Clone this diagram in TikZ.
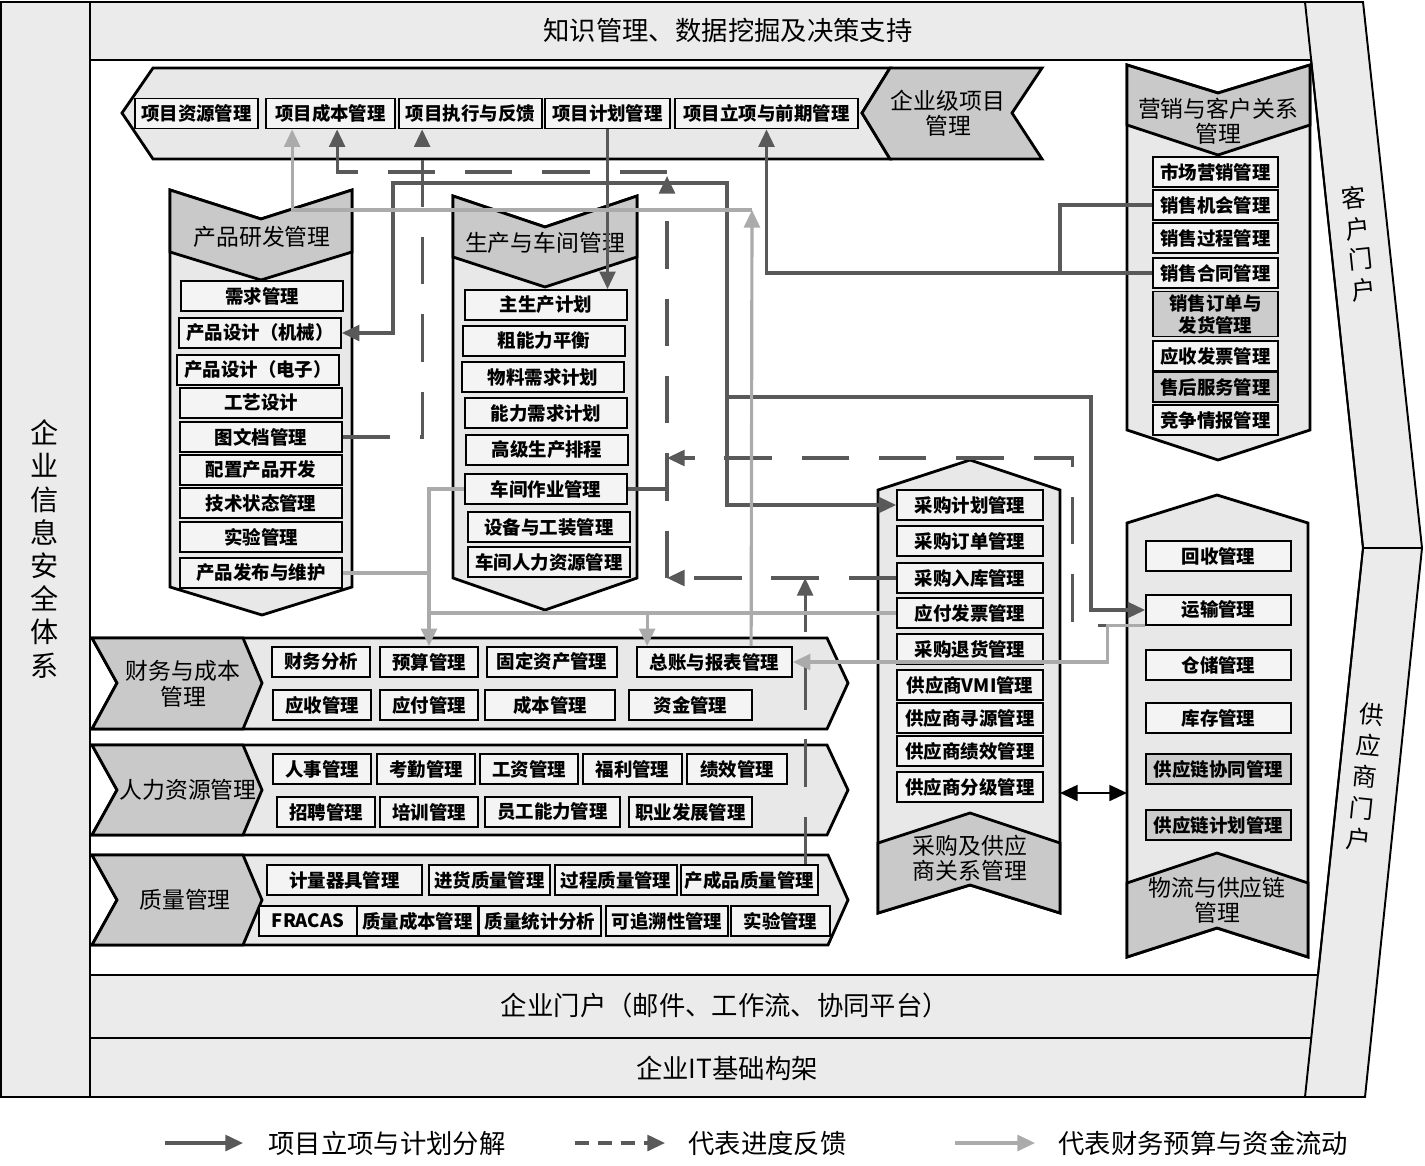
\documentclass[tikz,border=0pt]{standalone}
\usepackage{fontspec}
\setmainfont{Noto Sans CJK SC}
\usetikzlibrary{arrows.meta,positioning}
\tikzset{
  frame/.style={draw=black,line width=1.1pt,fill=gray!16},
  shell/.style={draw=black,line width=1.6pt,fill=gray!18},
  head/.style={draw=black,line width=1.6pt,fill=gray!42},
  item/.style={rectangle,draw=black,line width=1pt,fill=gray!9,minimum height=0.6cm,
    inner sep=1pt,font=\fontsize{10.5}{12.5}\selectfont\bfseries},
  dark/.style={fill=gray!40},
  rd/.style={item,minimum width=3.24cm},
  mk/.style={item,minimum width=2.5cm},
  cg/.style={item,minimum width=2.92cm},
  wlitem/.style={item,minimum width=2.9cm},
  ttl/.style={align=center,font=\fontsize{13}{14.5}\selectfont},
  band/.style={font=\fontsize{15}{17}\selectfont},
  legend/.style={font=\fontsize{15}{17}\selectfont,inner sep=0pt},
  % connectors: plan in dark grey, feedback dashed, funds in light grey
  plan/.style={draw=black!65,line width=1.8pt},
  feed/.style={plan,dash pattern=on 27pt off 17pt},
  fund/.style={draw=black!33,line width=1.8pt},
  arr/.style={-{Triangle[length=10pt,width=9pt]}}
}
\begin{document}
\begin{tikzpicture}[x=0.02cm,y=-0.02cm]
  \useasboundingbox (0,0) rectangle (1425,1165);
  % frame and bands
  \draw[frame] (1,2) -- (1363,2) -- (1422,548) -- (1365,1097) -- (1,1097) -- cycle;
  \draw[frame,fill=white] (90,60) -- (1311,60) -- (1363,548) -- (1318,975) -- (90,975) -- cycle;
  \draw[frame,fill=none] (90,2) -- (90,1097);
  \draw[frame,fill=none] (1305,2) -- (1363,548) -- (1305,1097);
  \draw[frame,fill=none] (1363,548) -- (1422,548);
  \draw[frame,fill=none] (90,1038) -- (1311,1038);
  \node[band] (zszc) at (728,30) {知识管理、数据挖掘及决策支持};
  \node[band] (qymh) at (725,1005) {企业门户（邮件、工作流、协同平台）};
  \node[band] (itjg) at (727,1068) {企业IT基础构架};
  \node[align=center,font=\fontsize{16}{18.9}\selectfont] (aqtx) at (45,549) {企\\业\\信\\息\\安\\全\\体\\系};
  \node[align=center,rotate=6,font=\fontsize{14}{17.6}\selectfont] (khmh) at (1359,244) {客\\户\\门\\户};
  \node[align=center,rotate=-6,font=\fontsize{14}{18}\selectfont] (gymh) at (1365,777) {供\\应\\商\\门\\户};

  % enterprise project management
  \draw[shell] (122,113) -- (153,68) -- (890,68) -- (862,113) -- (890,159) -- (153,159) -- cycle;
  \draw[head] (890,68) -- (1042,68) -- (1012,113) -- (1042,159) -- (890,159) -- (862,113) -- cycle;
  \node[ttl] (xmzt) at (948,113) {企业级项目\\管理};
  \node[item,minimum width=2.46cm] (zygl) at (196.5,113.5) {项目资源管理};
  \node[item,minimum width=2.58cm] (cbgl) at (330.5,113.5) {项目成本管理};
  \node[item,minimum width=2.86cm] (zxfk) at (470.5,113.5) {项目执行与反馈};
  \node[item,minimum width=2.5cm] (jhgl) at (607.5,113.5) {项目计划管理};
  \node[item,minimum width=3.66cm] (lxgl) at (766.5,113.5) {项目立项与前期管理};

  % product development
  \draw[shell] (170,190) -- (261,219) -- (352,190) -- (352,587) -- (262,615) -- (170,587) -- cycle;
  \draw[head] (170,190) -- (261,219) -- (352,190) -- (352,252) -- (261,280) -- (170,252) -- cycle;
  \node[ttl] (rdzt) at (262,237) {产品研发管理};
  \node[rd] (xqgl) at (262,296) {需求管理};
  \node[rd] (sjjx) at (260,333) {产品设计（机械）};
  \node[rd] (sjdz) at (258,370) {产品设计（电子）};
  \node[rd] (gysj) at (261,403) {工艺设计};
  \node[rd] (twgl) at (261,437) {图文档管理};
  \node[rd] (pzkf) at (261,470) {配置产品开发};
  \node[rd] (jszt) at (261,503) {技术状态管理};
  \node[rd] (sygl) at (261,537) {实验管理};
  \node[rd] (fbwh) at (261,573) {产品发布与维护};

  % production
  \draw[shell] (453,196) -- (545,227) -- (637,196) -- (637,578) -- (545,610) -- (453,578) -- cycle;
  \draw[head] (453,196) -- (545,227) -- (637,196) -- (637,257) -- (545,287) -- (453,257) -- cycle;
  \node[ttl] (sczt) at (545,243) {生产与车间管理};
  \node[rd] (zscjh) at (546,305) {主生产计划};
  \node[rd] (cnlph) at (544,341) {粗能力平衡};
  \node[rd] (wlxq) at (543,377) {物料需求计划};
  \node[rd] (nlxq) at (546,413) {能力需求计划};
  \node[rd] (gjpc) at (547,450) {高级生产排程};
  \node[rd] (cjzy) at (546,489) {车间作业管理};
  \node[rd] (sbgz) at (549,527) {设备与工装管理};
  \node[rd] (cjrl) at (549,562) {车间人力资源管理};

  % marketing
  \draw[shell] (1127,65) -- (1218,93) -- (1310,65) -- (1310,430) -- (1218,460) -- (1127,430) -- cycle;
  \draw[head] (1127,65) -- (1218,93) -- (1310,65) -- (1310,125) -- (1218,155) -- (1127,125) -- cycle;
  \node[ttl] (yxzt) at (1218,121) {营销与客户关系\\管理};
  \node[mk] (scyx) at (1215.5,172) {市场营销管理};
  \node[mk] (xsjh) at (1215.5,205) {销售机会管理};
  \node[mk] (xsgc) at (1215.5,238) {销售过程管理};
  \node[mk] (xsht) at (1215.5,273) {销售合同管理};
  \node[mk,dark,minimum height=0.9cm,align=center] (xsdd) at (1215.5,314) {销售订单与\\发货管理};
  \node[mk] (ysfp) at (1215.5,356) {应收发票管理};
  \node[mk,dark] (shfw) at (1215.5,387) {售后服务管理};
  \node[mk] (jzqb) at (1215.5,420) {竞争情报管理};

  % purchasing
  \draw[shell] (878,490) -- (970,460) -- (1060,490) -- (1060,913) -- (970,885) -- (878,913) -- cycle;
  \draw[head] (878,843) -- (970,813) -- (1060,843) -- (1060,913) -- (970,885) -- (878,913) -- cycle;
  \node[ttl] (cgzt) at (970,858) {采购及供应\\商关系管理};
  \node[cg] (cgjh) at (970,505) {采购计划管理};
  \node[cg] (cgdd) at (970,541) {采购订单管理};
  \node[cg] (cgrk) at (970,578) {采购入库管理};
  \node[cg] (yffp) at (970,613) {应付发票管理};
  \node[cg] (cgth) at (970,649) {采购退货管理};
  \node[cg] (gvmi) at (970,685) {供应商VMI管理};
  \node[cg] (gxy) at (970,718) {供应商寻源管理};
  \node[cg] (gjx) at (970,751) {供应商绩效管理};
  \node[cg] (gfj) at (970,787) {供应商分级管理};

  % logistics
  \draw[shell] (1127,523) -- (1217,495) -- (1308,523) -- (1308,957) -- (1217,928) -- (1127,957) -- cycle;
  \draw[head] (1127,883) -- (1217,853) -- (1308,883) -- (1308,957) -- (1217,928) -- (1127,957) -- cycle;
  \node[ttl] (wlzt) at (1217,900) {物流与供应链\\管理};
  \node[wlitem] (hsgl) at (1218.5,556) {回收管理};
  \node[wlitem] (ysgl) at (1218.5,610) {运输管理};
  \node[wlitem] (ccgl) at (1218.5,665) {仓储管理};
  \node[wlitem] (kcgl) at (1218.5,718) {库存管理};
  \node[wlitem,dark] (xtgl) at (1218.5,769) {供应链协同管理};
  \node[wlitem,dark] (jhgl2) at (1218.5,825) {供应链计划管理};

  \coordinate (cgr) at (1060,793);
  \coordinate (wll) at (1127,793);
  \draw[black,line width=1.3pt,{Triangle[length=10pt,width=9pt]}-{Triangle[length=10pt,width=9pt]}] (cgr) -- (wll);

  % finance
  \draw[shell] (92,638) -- (827,638) -- (848,683) -- (827,729) -- (92,729) -- (117,683) -- cycle;
  \draw[head] (92,638) -- (243,638) -- (262,683) -- (243,729) -- (92,729) -- (117,683) -- cycle;
  \node[ttl] (cwzt) at (183,684) {财务与成本\\管理};
  \node[item,minimum width=1.96cm] (cwfx) at (321,662) {财务分析};
  \node[item,minimum width=1.96cm] (ysuan) at (429,662) {预算管理};
  \node[item,minimum width=2.6cm] (gdzc) at (552,662) {固定资产管理};
  \node[item,minimum width=3.1cm] (zzbb) at (714.5,662) {总账与报表管理};
  \node[item,minimum width=1.96cm] (yssk) at (322,705) {应收管理};
  \node[item,minimum width=1.96cm] (yffk) at (429,705) {应付管理};
  \node[item,minimum width=2.6cm] (cbgl2) at (550,705) {成本管理};
  \node[item,minimum width=2.46cm] (zjgl) at (690.5,705) {资金管理};

  % human resources
  \draw[shell] (92,745) -- (827,745) -- (848,790) -- (827,835) -- (92,835) -- (117,790) -- cycle;
  \draw[head] (92,745) -- (243,745) -- (262,790) -- (243,835) -- (92,835) -- (117,790) -- cycle;
  \node[ttl] (rlzt) at (188,790) {人力资源管理};
  \node[item,minimum width=1.96cm] (rsgl) at (322,769) {人事管理};
  \node[item,minimum width=1.96cm] (kqgl) at (426,769) {考勤管理};
  \node[item,minimum width=1.96cm] (gzgl) at (529,769) {工资管理};
  \node[item,minimum width=1.98cm] (flgl) at (632.5,769) {福利管理};
  \node[item,minimum width=2cm] (jxgl) at (737,769) {绩效管理};
  \node[item,minimum width=1.96cm] (zpgl) at (326,812) {招聘管理};
  \node[item,minimum width=1.96cm] (pxgl) at (429,812) {培训管理};
  \node[item,minimum width=2.7cm] (nlgl) at (552.5,812) {员工能力管理};
  \node[item,minimum width=2.46cm] (zyfz) at (690.5,812) {职业发展管理};

  % quality
  \draw[shell] (92,855) -- (828,855) -- (848,900) -- (828,945) -- (92,945) -- (117,900) -- cycle;
  \draw[head] (92,855) -- (243,855) -- (262,900) -- (243,945) -- (92,945) -- (117,900) -- cycle;
  \node[ttl] (zlzt) at (185,900) {质量管理};
  \node[item,minimum width=3.1cm] (jlqj) at (344.5,880) {计量器具管理};
  \node[item,minimum width=2.42cm] (jhzl) at (489.5,880) {进货质量管理};
  \node[item,minimum width=2.44cm] (gczl) at (616,880) {过程质量管理};
  \node[item,minimum width=2.74cm] (ccpz) at (749.5,880) {产成品质量管理};
  \node[item,minimum width=1.96cm] (frac) at (308,921) {FRACAS};
  \node[item,minimum width=2.42cm] (zlcb) at (417.5,921) {质量成本管理};
  \node[item,minimum width=2.44cm] (tjfx) at (540,921) {质量统计分析};
  \node[item,minimum width=2.44cm] (zsgl) at (667,921) {可追溯性管理};
  \node[item,minimum width=1.98cm] (zlsy) at (780.5,921) {实验管理};

  % plan decomposition
  \coordinate (jc) at (608,183);
  \coordinate (jd) at (727,397);
  \draw[plan,arr] (jhgl.south) -- (jhgl.south |- zscjh.north);
  \draw[plan,arr] (jc) -- (393,183) |- (sjjx.east);
  \draw[plan,arr] (jc) -- (727,183) |- (cgjh.west);
  \draw[plan,arr] (jd) -- (1091,397) |- (ysgl.west);
  \draw[plan] (xsjh.west) -| (1060,273);
  \draw[plan,arr] (xsht.west) -| (lxgl.south);

  % progress feedback
  \coordinate (fk) at (667,578);
  \coordinate (fm) at (667,458);
  \coordinate (ft) at (667,172);
  \path ([xshift=1.44cm]cbgl.south west) coordinate (cbfk)
        ([xshift=0.48cm]zxfk.south west) coordinate (zxin)
        ([xshift=2.5cm]ccpz.north west) coordinate (cpup);
  \draw[feed,arr] (fk) -- (667,176);
  \draw[feed,arr] (ft) -| (cbfk);
  \draw[feed,arr] (cgrk.west) -- (fk);
  \draw[feed,arr] (ysgl.south west) -- ++(-73,0) |- (fm);
  \draw[feed] (cjzy.east) -- (cjzy.east -| fk);
  \draw[feed,arr] (twgl.east) -| (zxin);
  \draw[feed,arr] (cpup) -- (cpup |- cgrk.west);

  % budget and funds
  \path ([xshift=2.3cm]zzbb.north west) coordinate (zzup)
        ([xshift=0.22cm]zzbb.north west) coordinate (zzin)
        ([xshift=0.54cm]cbgl.south west) coordinate (cbin);
  \coordinate (fd) at (752,210);
  \draw[fund,arr] (zzup) -- (fd);
  \draw[fund,arr] (fd) -| (cbin);
  \draw[fund,arr] (cjzy.west) -| (ysuan.north);
  \draw[fund] (fbwh.east) -- (fbwh.east -| ysuan.north);
  \draw[fund] (yffp.west) -- (yffp.west -| ysuan.north);
  \draw[fund,arr] (zzin |- yffp.west) -- (zzin);
  \draw[fund,arr] (ysgl.south west) -- ++(-38,0) |- (zzbb.east);

  % legend
  \node[legend,anchor=west] (lg1) at (268,1143) {项目立项与计划分解};
  \node[legend,anchor=west] (lg2) at (688,1143) {代表进度反馈};
  \node[legend,anchor=west] (lg3) at (1058,1143) {代表财务预算与资金流动};
  \draw[plan,arr] ([xshift=-2.06cm]lg1.west) -- ([xshift=-0.5cm]lg1.west);
  \draw[plan,arr,dash pattern=on 8pt off 5pt] ([xshift=-2.26cm]lg2.west) -- ([xshift=-0.46cm]lg2.west);
  \draw[fund,arr] ([xshift=-2.06cm]lg3.west) -- ([xshift=-0.46cm]lg3.west);
\end{tikzpicture}
\end{document}
